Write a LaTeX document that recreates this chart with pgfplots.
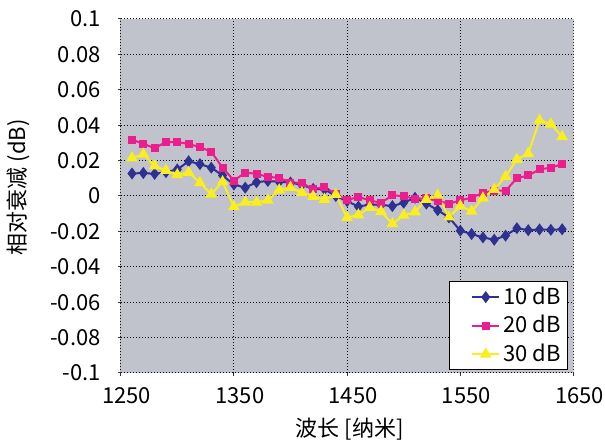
\documentclass[border=0pt]{standalone}
\usepackage{fontspec}
\setmainfont{Noto Sans CJK SC}
\usepackage{pgfplots}
\pgfplotsset{compat=1.18}

\definecolor{plotbg}{RGB}{192,195,203}
\definecolor{serA}{RGB}{46,49,146}
\definecolor{serB}{RGB}{234,30,140}
\definecolor{serC}{RGB}{250,238,30}

\begin{document}
\begin{tikzpicture}
  \begin{axis}[
    scale only axis,
    width=226.4pt, height=177pt,
    xmin=1250, xmax=1650, ymin=-0.1, ymax=0.1,
    xtick={1250,1350,1450,1550,1650},
    xticklabels={1250,1350,1450,1550,1650},
    ytick={-0.1,-0.08,-0.06,-0.04,-0.02,0,0.02,0.04,0.06,0.08,0.1},
    yticklabels={-0.1,-0.08,-0.06,-0.04,-0.02,0,0.02,0.04,0.06,0.08,0.1},
    extra y ticks={0}, extra y tick labels={},
    extra y tick style={grid style={solid, black!65, line width=0.7pt}, major tick length=0pt},
    grid=major,
    major grid style={black, line width=0.5pt, dash pattern=on 0.6pt off 0.9pt},
    axis background/.style={fill=plotbg},
    axis line style={draw=none},
    tick pos=left, tick align=outside, major tick length=1.5pt,
    tick style={black!80, line width=0.5pt},
    tick label style={font=\fontsize{11}{13}\selectfont},
    xticklabel style={anchor=center, xshift=3pt, yshift=-10pt},
    yticklabel style={anchor=east, inner sep=0pt, xshift=-8.35pt},
    label style={font=\fontsize{11}{13}\selectfont},
    xlabel={波长 [纳米]},
    xlabel style={at={(axis description cs:0.506,-0.158)}, anchor=center},
    ylabel={相对衰减 (dB)},
    ylabel style={at={(axis description cs:-0.2268,0.525)}, anchor=center},
    legend style={at={(0.9885,0.0085)}, anchor=south east, draw=black,
      line width=0.6pt, fill=white, font=\fontsize{11}{12}\selectfont,
      inner xsep=2pt, inner ysep=1pt, row sep=1pt, nodes={inner sep=1.5pt}},
    legend cell align=left,
    legend image code/.code={%
      \path (-9pt,0pt);
      \draw[mark repeat=2,mark phase=2] plot coordinates {(0pt,0pt) (6.75pt,0pt) (13.5pt,0pt)};},
  ]

  \addplot[serA, line width=1pt, mark=diamond*, mark size=2.2pt, mark options={solid}] coordinates {
    (1260,0.0127) (1270,0.013) (1280,0.0125) (1290,0.0135) (1300,0.015)
    (1310,0.0196) (1320,0.018) (1330,0.016) (1340,0.0116) (1350,0.0065)
    (1360,0.0047) (1370,0.0078) (1380,0.0085) (1390,0.008) (1400,0.0076)
    (1410,0.0063) (1420,0.004) (1430,0.0038) (1440,0.0) (1450,-0.0029)
    (1460,-0.006) (1470,-0.0048) (1480,-0.005) (1490,-0.0057) (1500,-0.0038)
    (1510,-0.001) (1520,-0.0043) (1530,-0.008) (1540,-0.0121) (1550,-0.0196)
    (1560,-0.0215) (1570,-0.0234) (1580,-0.0247) (1590,-0.0224) (1600,-0.0182)
    (1610,-0.0193) (1620,-0.0189) (1630,-0.0191) (1640,-0.0188)};
  \addlegendentry{10 dB}

  \addplot[serB, line width=1pt, mark=square*, mark size=1.5pt, mark options={solid}] coordinates {
    (1260,0.0318) (1270,0.0295) (1280,0.027) (1290,0.0305) (1300,0.0305)
    (1310,0.0294) (1320,0.0276) (1330,0.025) (1340,0.016) (1350,0.0087)
    (1360,0.0132) (1370,0.0125) (1380,0.0108) (1390,0.0103) (1400,0.0076)
    (1410,0.0074) (1420,0.0038) (1430,0.0052) (1440,0.001) (1450,-0.0023)
    (1460,-0.0005) (1470,-0.0025) (1480,-0.0038) (1490,0.0003) (1500,0.0)
    (1510,-0.0017) (1520,-0.0013) (1530,-0.0028) (1540,-0.0043) (1550,-0.0025)
    (1560,-0.0009) (1570,0.0018) (1580,0.003) (1590,0.003) (1600,0.0100)
    (1610,0.0116) (1620,0.015) (1630,0.016) (1640,0.018)};
  \addlegendentry{20 dB}

  \addplot[serC, line width=1pt, mark=triangle*, mark size=2.4pt, mark options={solid}] coordinates {
    (1260,0.0215) (1270,0.0236) (1280,0.017) (1290,0.0144) (1300,0.012)
    (1310,0.0133) (1320,0.0075) (1330,0.001) (1340,0.008) (1350,-0.006)
    (1360,-0.0035) (1370,-0.0035) (1380,-0.0024) (1390,0.0034) (1400,0.0048)
    (1410,0.0019) (1420,-0.0002) (1430,-0.0019) (1440,0.0008) (1450,-0.0122)
    (1460,-0.0107) (1470,-0.0065) (1480,-0.0088) (1490,-0.0157) (1500,-0.0109)
    (1510,-0.009) (1520,-0.0019) (1530,0.0004) (1540,-0.0119) (1550,-0.0056)
    (1560,-0.0086) (1570,-0.0012) (1580,0.0037) (1590,0.011) (1600,0.0207)
    (1610,0.024) (1620,0.0428) (1630,0.0406) (1640,0.0335)};
  \addlegendentry{30 dB}

  \draw[black!80, line width=0.7pt] (axis description cs:0,0) -- (axis description cs:0,1);
  \draw[black!45, line width=0.6pt] (axis description cs:1,0) -- (axis description cs:1,1);
  \end{axis}
  \pgfresetboundingbox
  \path ([shift={(-60.35pt,-35pt)}]current axis.south west)
    rectangle ([shift={(15.75pt,9.5pt)}]current axis.north east);
\end{tikzpicture}
\end{document}
